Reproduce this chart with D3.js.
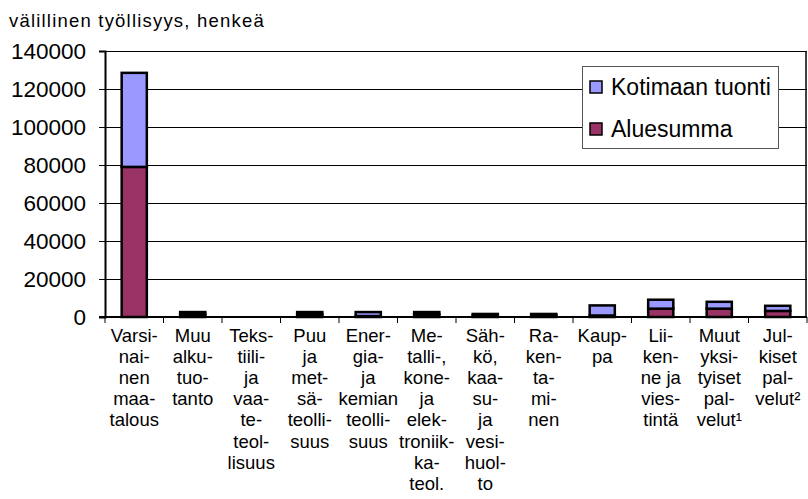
<!DOCTYPE html>
<html>
<head>
<meta charset="utf-8">
<script src="https://cdn.jsdelivr.net/npm/d3@7"></script>
<style>
  body { margin: 0; background: #fff; }
  svg { display: block; font-family: "Liberation Sans", Arial, sans-serif; }
</style>
</head>
<body>
<svg id="chart" width="808" height="499"></svg>
<script>
// category labels, lines split with "|"
var categories = [
  "Varsi-|nai-|nen|maa-|talous",
  "Muu|alku-|tuo-|tanto",
  "Teks-|tiili-|ja|vaa-|te-|teol-|lisuus",
  "Puu|ja|met-|sä-|teolli-|suus",
  "Ener-|gia-|ja|kemian|teolli-|suus",
  "Me-|talli-,|kone-|ja|elek-|troniik-|ka-|teol.",
  "Säh-|kö,|kaa-|su-|ja|vesi-|huol-|to",
  "Ra-|ken-|ta-|mi-|nen",
  "Kaup-|pa",
  "Lii-|ken-|ne ja|vies-|tintä",
  "Muut|yksi-|tyiset|pal-|velut¹",
  "Jul-|kiset|pal-|velut²"
];
var aluesumma = [79000, 1300, 0, 1300, 500, 1400, 700, 800, 800, 4400, 4400, 3200];
var kotimaanTuonti = [49500, 1300, 0, 1300, 2100, 1200, 900, 800, 5300, 4700, 3600, 2700];
var yTicks = [0, 20000, 40000, 60000, 80000, 100000, 120000, 140000];
var seriesNames = ["Kotimaan tuonti", "Aluesumma"];
var seriesColors = ["#9999ff", "#993366"];
var title = "välillinen työllisyys, henkeä";

(function() {
  var svg = d3.select("#chart");
  var plotLeft = 105, plotRight = 807, plotTop = 51, plotBottom = 317;

  var x = d3.scaleBand()
    .domain(d3.range(categories.length))
    .range([plotLeft, plotRight])
    .paddingInner(0.57)
    .paddingOuter(0.285);

  var y = d3.scaleLinear().domain([0, 140000]).range([plotBottom, plotTop]);

  // title
  svg.append("text")
    .attr("x", 9).attr("y", 27)
    .style("font-size", "18.5px")
    .style("letter-spacing", "1.2px")
    .text(title);

  // gridlines
  svg.append("g").selectAll("line")
    .data(yTicks.slice(1))
    .enter().append("line")
      .attr("x1", plotLeft).attr("x2", plotRight)
      .attr("y1", function(d) { return Math.round(y(d)) + 0.5; })
      .attr("y2", function(d) { return Math.round(y(d)) + 0.5; })
      .style("stroke", "#000")
      .style("stroke-width", 1);

  // right border
  svg.append("line")
    .attr("x1", plotRight - 1).attr("x2", plotRight - 1)
    .attr("y1", y(140000)).attr("y2", plotBottom)
    .style("stroke", "#000")
    .style("stroke-width", 1.5);

  // stacked bars
  var stackData = categories.map(function(c, i) {
    return { i: i, alue: aluesumma[i], tuonti: kotimaanTuonti[i] };
  });
  var stacked = d3.stack().keys(["alue", "tuonti"])(stackData);
  var fills = { alue: seriesColors[1], tuonti: seriesColors[0] };

  svg.append("g").selectAll("g")
    .data(stacked)
    .enter().append("g")
      .style("fill", function(s) { return fills[s.key]; })
    .selectAll("rect")
    .data(function(s) { return s.filter(function(d) { return d[1] > d[0]; }); })
    .enter().append("rect")
      .attr("x", function(d) { return x(d.data.i); })
      .attr("width", x.bandwidth())
      .attr("y", function(d) { return y(d[1]); })
      .attr("height", function(d) { return y(d[0]) - y(d[1]); })
      .style("stroke", "#000")
      .style("stroke-width", 2.5);

  // y axis
  var yAxis = d3.axisLeft(y)
    .tickValues(yTicks)
    .tickFormat(d3.format("d"))
    .tickSize(6)
    .tickPadding(13);

  var gy = svg.append("g")
    .attr("transform", "translate(" + plotLeft + ",0)")
    .call(yAxis);
  gy.select(".domain").style("stroke", "#000").style("stroke-width", 2);
  gy.selectAll(".tick line").style("stroke", "#000");
  gy.selectAll(".tick text")
    .style("font-size", "22.5px")
    .style("font-family", "Liberation Sans, Arial, sans-serif")
    .style("fill", "#000");

  // x axis line and ticks between categories
  svg.append("line")
    .attr("x1", plotLeft - 6).attr("x2", plotRight)
    .attr("y1", plotBottom).attr("y2", plotBottom)
    .style("stroke", "#000").style("stroke-width", 2);

  svg.append("g").selectAll("line")
    .data(d3.range(categories.length + 1))
    .enter().append("line")
      .attr("x1", function(i) { return plotLeft + i * x.step(); })
      .attr("x2", function(i) { return plotLeft + i * x.step(); })
      .attr("y1", plotBottom).attr("y2", plotBottom + 6)
      .style("stroke", "#000");

  // category labels
  var labels = svg.append("g").selectAll("text")
    .data(categories)
    .enter().append("text")
      .attr("text-anchor", "middle")
      .attr("transform", function(c, i) { return "translate(" + (x(i) + x.bandwidth() / 2) + ",342)"; })
      .style("font-size", "18.5px");

  labels.selectAll("tspan")
    .data(function(c) { return c.split("|"); })
    .enter().append("tspan")
      .attr("x", 0)
      .attr("y", function(d, j) { return j * 21.1; })
      .text(function(d) { return d; });

  // legend
  var legend = svg.append("g");
  legend.append("rect")
    .attr("x", 582.5).attr("y", 66.5)
    .attr("width", 196).attr("height", 82)
    .style("fill", "#fff")
    .style("stroke", "#555");

  var legendY = [87, 129];
  seriesNames.forEach(function(name, k) {
    legend.append("rect")
      .attr("x", 590).attr("y", legendY[k] - 6)
      .attr("width", 12).attr("height", 12)
      .style("fill", seriesColors[k])
      .style("stroke", "#000")
      .style("stroke-width", 1.5);
    legend.append("text")
      .attr("x", 611).attr("y", legendY[k] + 8)
      .style("font-size", "23px")
      .text(name);
  });
})();
</script>
</body>
</html>
